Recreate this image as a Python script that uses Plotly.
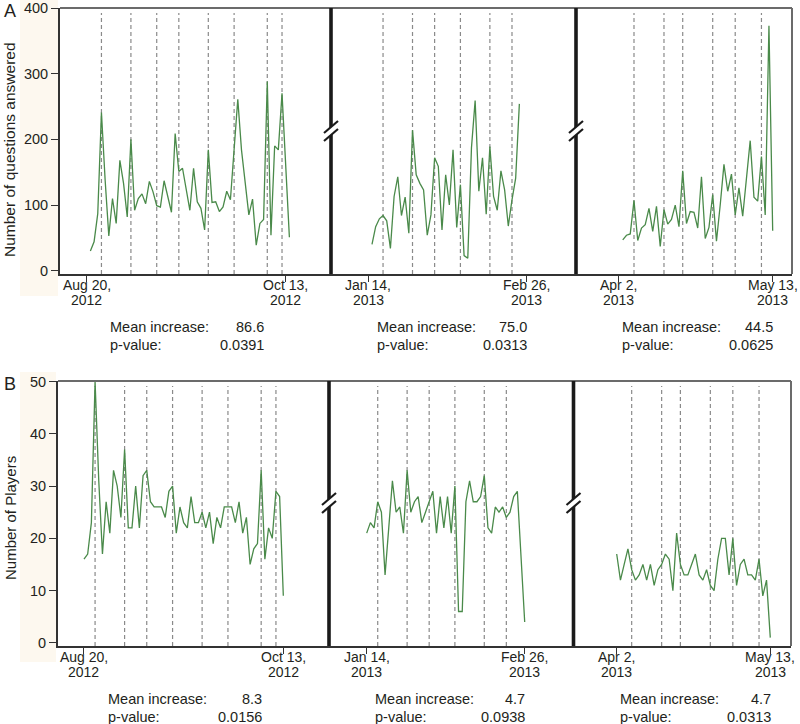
import plotly.graph_objects as go
import pandas as pd

W, H = 800, 724

# ----------------------------- data -----------------------------
# Panel A: number of questions answered (daily)
questions_p1_start = "2012-08-21"
questions_p1 = [30, 44, 87, 241, 138, 53, 110, 72, 168, 133,
                82, 200, 92, 110, 117, 102, 136, 120, 99, 97,
                137, 113, 89, 209, 151, 156, 123, 92, 156, 105,
                95, 62, 184, 104, 105, 90, 97, 121, 108, 184,
                261, 184, 133, 85, 109, 39, 72, 78, 288, 54,
                190, 184, 270, 163, 51]
questions_p2_start = "2013-01-15"
questions_p2 = [40, 67, 79, 84, 76, 34, 113, 143, 84, 112,
                57, 214, 146, 133, 123, 54, 85, 172, 159, 62,
                146, 100, 184, 66, 131, 23, 19, 187, 259, 121,
                172, 86, 189, 113, 92, 152, 123, 68, 108, 141,
                254]
questions_p3_start = "2013-04-03"
questions_p3 = [47, 54, 56, 107, 46, 65, 70, 95, 60, 98,
                37, 93, 71, 78, 100, 67, 152, 72, 90, 89,
                65, 143, 49, 66, 116, 45, 100, 162, 121, 147,
                85, 126, 83, 146, 198, 112, 106, 174, 85, 373,
                61]

# Panel B: number of players (daily; None = no value that day)
players_p1_start = "2012-08-20"
players_p1 = [16, 17, 23, 50, 31, 17, 27, 21, 33, 30,
              24, 37, 22, 22, 30, 22, 32, 33, 27, 26,
              26, 26, 24, 29, 30, 21, 26, 23, 22, 28,
              23, 23, 25, 22, 25, 19, 24, 22, 26, 26,
              26, 23, 27, 21, 24, 15, 18, 19, 33, 16,
              22, 20, 29, 28, 9]
players_p2_start = "2013-01-14"
players_p2 = [21, 23, 22, 27, 25, 13, 22, 31, 25, 26,
              21, 33, 25, 27, 28, 23, 25, 27, 29, 21,
              28, 22, 28, 21, 30, 6, 6, 27, 31, 27,
              27, 28, 32, 22, 21, 26, 25, 26, 24, 25,
              28, 29, None, 4]
players_p3_start = "2013-04-02"
players_p3 = [17, 12, 15, 18, 14, 12, 13, 15, 12, 15,
              11, 14, 15, 17, 16, 10, 21, 15, 13, 13,
              15, 17, 13, 12, 14, 11, 10, 16, 20, 20,
              13, 20, 11, 15, 16, 13, 13, 12, 16, 9,
              12, 1]

# event days (dashed vertical lines)
events_A = [["2012-08-24", "2012-09-01", "2012-09-08", "2012-09-14",
             "2012-09-22", "2012-09-29", "2012-10-08", "2012-10-12"],
            ["2013-01-18", "2013-01-26", "2013-02-01", "2013-02-08",
             "2013-02-16", "2013-02-22"],
            ["2013-04-06", "2013-04-14", "2013-04-19", "2013-04-27",
             "2013-05-03", "2013-05-10"]]
events_B = [["2012-08-23", "2012-08-31", "2012-09-06", "2012-09-13",
             "2012-09-21", "2012-09-28", "2012-10-07", "2012-10-11"],
            ["2013-01-17", "2013-01-25", "2013-01-31", "2013-02-07",
             "2013-02-15", "2013-02-21"],
            ["2013-04-06", "2013-04-14", "2013-04-19", "2013-04-27",
             "2013-05-03", "2013-05-10"]]

tick_dates = [["2012-08-20", "2012-10-13"],
              ["2013-01-14", "2013-02-26"],
              ["2013-04-02", "2013-05-13"]]
tick_line1 = [["Aug 20,", "Oct 13,"], ["Jan 14,", "Feb 26,"],
              ["Apr 2,", "May 13,"]]
tick_line2 = [["2012", "2012"], ["2013", "2013"], ["2013", "2013"]]

mean_increase_A = ["86.6", "75.0", "44.5"]
p_value_A = ["0.0391", "0.0313", "0.0625"]
mean_increase_B = ["8.3", "4.7", "4.7"]
p_value_B = ["0.0156", "0.0938", "0.0313"]

# ----------------------------- layout helpers -----------------------------
def fx(x):
    return x / W


def fy(y):
    return 1 - y / H


FONT = "Liberation Sans"
TXT = "#231f20"
GREEN = "#4a8a4a"

# per segment: (label left offset, value right offset) from segment start
STAT_POS = [(48, 206), (44, 198), (44, 199)]

panels = [
    dict(name="A", xs=[60, 331, 576, 792], top=8, bottom=274,
         yrange=[-5, 400], ytick=[0, 100, 200, 300, 400],
         ranges=[["2012-08-12 18:07", "2012-10-25 07:00"],
                 ["2013-01-03 21:00", "2013-03-11 09:00"],
                 ["2013-03-21 12:45", "2013-05-18 03:36"]],
         series=[(questions_p1_start, questions_p1),
                 (questions_p2_start, questions_p2),
                 (questions_p3_start, questions_p3)],
         events=events_A, ytitle="Number of questions answered",
         ytitle_y=150, ytitle_size=15.5, break_y=131,
         mean=mean_increase_A, pval=p_value_A, band=(0, 296)),
    dict(name="B", xs=[58, 329, 573.5, 791], top=381, bottom=646,
         yrange=[-0.6, 50.1], ytick=[0, 10, 20, 30, 40, 50],
         ranges=[["2012-08-12 23:00", "2012-10-25 09:00"],
                 ["2013-01-03 17:45", "2013-03-11 06:45"],
                 ["2013-03-21 11:15", "2013-05-18 12:45"]],
         series=[(players_p1_start, players_p1),
                 (players_p2_start, players_p2),
                 (players_p3_start, players_p3)],
         events=events_B, ytitle="Number of Players",
         ytitle_y=518, ytitle_size=15, break_y=503,
         mean=mean_increase_B, pval=p_value_B, band=(372, 662)),
]

fig = go.Figure()
layout = dict(width=W, height=H, margin=dict(l=0, r=0, t=0, b=0),
              paper_bgcolor="white", plot_bgcolor="white",
              showlegend=False, font=dict(family=FONT, color=TXT, size=14))
shapes = []
annotations = []


def text(x, y, s, xref="paper", anchor="center", size=14, angle=0):
    annotations.append(dict(x=x, y=fy(y), xref=xref, yref="paper", text=s,
                            showarrow=False, xanchor=anchor,
                            yanchor="middle", textangle=angle,
                            font=dict(size=size, color=TXT, family=FONT)))


for pi, p in enumerate(panels):
    yname = "yaxis" if pi == 0 else "yaxis2"
    yref = "y" if pi == 0 else "y2"
    ydom = [fy(p["bottom"]), fy(p["top"])]
    base = p["bottom"]
    for si in range(3):
        ax_n = pi * 3 + si + 1
        xname = "xaxis" if ax_n == 1 else f"xaxis{ax_n}"
        xref = "x" if ax_n == 1 else f"x{ax_n}"
        start, vals = p["series"][si]
        dates = pd.date_range(start, periods=len(vals), freq="D")
        fig.add_trace(go.Scatter(x=dates, y=vals, mode="lines",
                                 connectgaps=True,
                                 line=dict(color=GREEN, width=1.3),
                                 xaxis=xref, yaxis=yref,
                                 hoverinfo="skip"))
        layout[xname] = dict(
            domain=[fx(p["xs"][si]), fx(p["xs"][si + 1])],
            anchor=yref, type="date", range=p["ranges"][si],
            tickvals=tick_dates[si], showticklabels=False,
            ticks="outside", ticklen=6, tickwidth=1.2, tickcolor="#333",
            showline=True, linecolor="#333", linewidth=1.6,
            showgrid=False, zeroline=False,
            automargin=False, fixedrange=True)
        # two-line tick labels placed at the tick dates
        for d, l1, l2 in zip(tick_dates[si], tick_line1[si], tick_line2[si]):
            text(d, base + 11, l1, xref=xref)
            text(d, base + 26, l2, xref=xref)
        for d in p["events"][si]:
            shapes.append(dict(type="line", xref=xref, yref="paper",
                               x0=d, x1=d, y0=fy(p["bottom"]),
                               y1=fy(p["top"] + 5), layer="below",
                               line=dict(color="#8a8a8a", width=1.2,
                                         dash="4px,3px")))
        # statistics under the segment
        x0 = p["xs"][si]
        lo, ro = STAT_POS[si]
        text(fx(x0 + lo), base + 53, "Mean increase:", anchor="left", size=14.5)
        text(fx(x0 + lo), base + 71, "p-value:", anchor="left", size=14.5)
        text(fx(x0 + ro), base + 53, p["mean"][si], anchor="right", size=14.5)
        text(fx(x0 + ro), base + 71, p["pval"][si], anchor="right", size=14.5)

    layout[yname] = dict(
        domain=ydom, anchor="x" if pi == 0 else "x4", range=p["yrange"],
        tickvals=p["ytick"], ticks="outside", ticklen=7, tickwidth=1.2,
        tickcolor="#333", showline=True, linecolor="#333", linewidth=2,
        showgrid=False, zeroline=False,
        tickfont=dict(family=FONT, size=14.5, color=TXT),
        automargin=False, fixedrange=True)

    xl, xb1, xb2, xr = p["xs"]
    # beige band behind the y-axis
    shapes.append(dict(type="rect", xref="paper", yref="paper",
                       x0=fx(20), x1=fx(xl - 2), y0=fy(p["band"][1]),
                       y1=fy(p["band"][0]), fillcolor="#fdf8ef",
                       line=dict(width=0), layer="below"))
    # frame: top and right
    shapes.append(dict(type="line", xref="paper", yref="paper",
                       x0=fx(xl), x1=fx(xr), y0=fy(p["top"]), y1=fy(p["top"]),
                       line=dict(color="#6b6b6b", width=2)))
    shapes.append(dict(type="line", xref="paper", yref="paper",
                       x0=fx(xr), x1=fx(xr), y0=fy(p["bottom"]), y1=fy(p["top"]),
                       line=dict(color="#6b6b6b", width=2)))
    # thick separators with break marks
    for xb in (xb1, xb2):
        shapes.append(dict(type="line", xref="paper", yref="paper",
                           x0=fx(xb), x1=fx(xb), y0=fy(p["bottom"]),
                           y1=fy(p["top"]),
                           line=dict(color="#1a1a1a", width=3.6)))
        yc = p["break_y"]
        hw, hh, sep = 7, 6, 4
        path = (f"M {fx(xb - hw)} {fy(yc - sep + hh)} "
                f"L {fx(xb + hw)} {fy(yc - sep - hh)} "
                f"L {fx(xb + hw)} {fy(yc + sep - hh)} "
                f"L {fx(xb - hw)} {fy(yc + sep + hh)} Z")
        shapes.append(dict(type="path", xref="paper", yref="paper",
                           path=path, fillcolor="white",
                           line=dict(width=0)))
        for s in (-sep, sep):
            shapes.append(dict(type="line", xref="paper", yref="paper",
                               x0=fx(xb - hw), y0=fy(yc + s + hh),
                               x1=fx(xb + hw), y1=fy(yc + s - hh),
                               line=dict(color="#1a1a1a", width=2.2)))
    # panel letter and y title
    text(fx(2), p["top"] + 3, p["name"], anchor="left", size=18)
    text(fx(10), p["ytitle_y"], p["ytitle"], size=p["ytitle_size"], angle=-90)

layout["shapes"] = shapes
layout["annotations"] = annotations
fig.update_layout(**layout)
fig.write_html("out.html", config={"displayModeBar": False},
               post_script="document.body.style.margin='0';"
                           "document.body.style.overflow='hidden';")
